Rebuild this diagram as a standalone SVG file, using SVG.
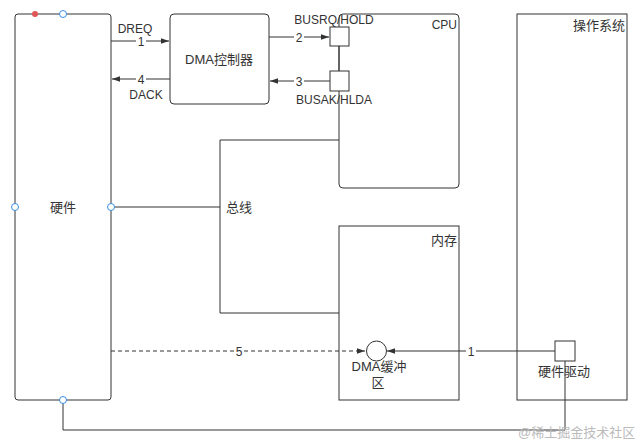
<svg xmlns="http://www.w3.org/2000/svg" width="643" height="444" viewBox="0 0 643 444">
<defs>
<style>
.box{fill:#fff;stroke:#333;stroke-width:1}
.ln{fill:none;stroke:#333;stroke-width:1}
.dash{fill:none;stroke:#333;stroke-width:1;stroke-dasharray:4 3}
text{font-family:"Liberation Sans","Noto Sans CJK SC",sans-serif;font-size:12px;fill:#333}
.zh{font-size:13px}
.c{text-anchor:middle}
.r{text-anchor:end}
.lbl{fill:#fff;stroke:none}
.pt{fill:#fff;stroke:#3a8ee6;stroke-width:1}
.wm{fill:#bbb;font-size:13px}
</style>
<marker id="ah" viewBox="0 0 10 10" refX="10" refY="5" markerWidth="8" markerHeight="8" orient="auto" markerUnits="userSpaceOnUse"><path d="M0,1.5 L10,5 L0,8.5 Z" fill="#333"/></marker>
</defs>
<rect width="643" height="444" fill="#fff"/>

<g id="hardware">
<rect class="box" x="15" y="14" width="96" height="386" rx="3"/>
<text class="c zh" x="63" y="212">硬件</text>
</g>

<g id="dma-controller">
<rect class="box" x="170" y="14" width="99" height="90" rx="4"/>
<text class="c zh" x="219" y="64">DMA控制器</text>
</g>

<g id="cpu">
<rect class="box" x="339" y="14" width="120" height="174" rx="4"/>
<text class="r" x="457" y="29">CPU</text>
</g>

<g id="memory">
<rect class="box" x="339" y="226" width="120" height="174"/>
<text class="r zh" x="457" y="245">内存</text>
</g>

<g id="os">
<rect class="box" x="517" y="14" width="110" height="386"/>
<text class="r zh" x="625" y="30">操作系统</text>
</g>

<g id="connectors">
<line class="ln" x1="111" y1="41" x2="169" y2="41" marker-end="url(#ah)"/>
<line class="ln" x1="170" y1="79" x2="112" y2="79" marker-end="url(#ah)"/>
<line class="ln" x1="269" y1="37" x2="329" y2="37" marker-end="url(#ah)"/>
<line class="ln" x1="330" y1="81" x2="270" y2="81" marker-end="url(#ah)"/>
<line class="ln" x1="339" y1="46" x2="339" y2="71"/>
<polyline class="ln" points="111,207 220,207"/>
<polyline class="ln" points="339,140 220,140 220,313 339,313"/>
<line class="dash" x1="111" y1="351" x2="365" y2="351" marker-end="url(#ah)"/>
<line class="ln" x1="555" y1="351" x2="387" y2="351" marker-end="url(#ah)"/>
<polyline class="ln" points="63,400 63,430 565,430 565,361"/>
<rect class="lbl" x="136" y="36" width="10" height="10"/>
<text class="c" x="141" y="45.5">1</text>
<rect class="lbl" x="136" y="74" width="10" height="10"/>
<text class="c" x="141" y="83.5">4</text>
<rect class="lbl" x="294" y="32" width="10" height="10"/>
<text class="c" x="299" y="41.5">2</text>
<rect class="lbl" x="294" y="76" width="10" height="10"/>
<text class="c" x="299" y="85.5">3</text>
<rect class="lbl" x="234" y="346" width="10" height="10"/>
<text class="c" x="239" y="355.5">5</text>
<rect class="lbl" x="466" y="346" width="10" height="10"/>
<text class="c" x="471" y="355.5">1</text>
<text class="c" x="135" y="33">DREQ</text>
<text class="c" x="146" y="99">DACK</text>
<text class="zh" x="226" y="212">总线</text>
</g>

<g id="ports">
<circle cx="35" cy="14" r="3" fill="#e05555"/>
<circle class="pt" cx="63" cy="14" r="3.5"/>
<circle class="pt" cx="15" cy="207" r="3.5"/>
<circle class="pt" cx="111" cy="207" r="3.5"/>
<circle class="pt" cx="63" cy="400" r="3.5"/>
</g>

<g id="busrq">
<rect class="box" x="330" y="27" width="19" height="19"/>
<text class="c" x="334" y="24">BUSRQ/HOLD</text>
</g>

<g id="busak">
<rect class="box" x="330" y="71" width="19" height="20"/>
<text class="c" x="334" y="104">BUSAK/HLDA</text>
</g>

<g id="dma-buffer">
<circle class="box" cx="376.5" cy="351" r="10"/>
<text class="c zh" x="379" y="371">DMA缓冲</text>
<text class="c zh" x="378" y="387">区</text>
</g>

<g id="driver">
<rect class="box" x="555" y="341" width="20" height="20"/>
<text class="c zh" x="564" y="376">硬件驱动</text>
</g>

<text class="wm" x="518" y="437">@稀土掘金技术社区</text>
</svg>
